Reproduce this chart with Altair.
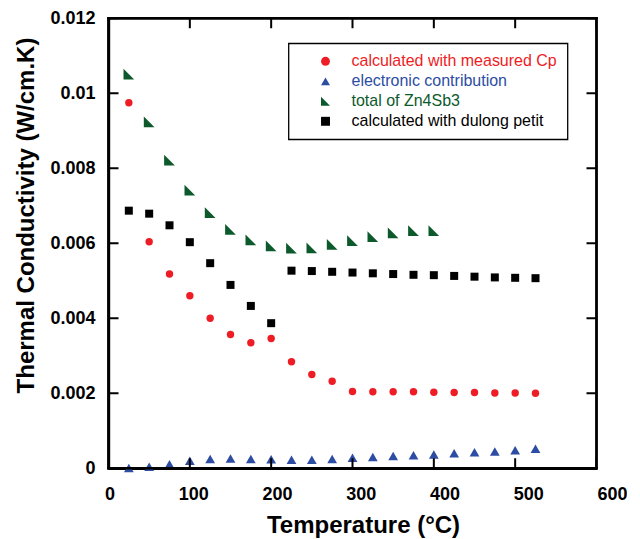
import altair as alt
import pandas as pd

temps = [25, 50, 75, 100, 125, 150, 175, 200, 225, 250, 275, 300, 325, 350, 375, 400, 425, 450, 475, 500, 525]
cp_measured = [0.00975, 0.00604, 0.00518, 0.00460, 0.00400, 0.00357, 0.00335, 0.00346, 0.00284, 0.00250, 0.00232,
               0.00205, 0.00204, 0.00204, 0.00204, 0.00203, 0.00202, 0.00202, 0.00201, 0.00201, 0.00200]
electronic = [0.00001, 0.00004, 0.00011, 0.00020, 0.00025, 0.00026, 0.00025, 0.00024, 0.00023, 0.00023, 0.00025,
              0.00028, 0.00030, 0.00033, 0.00035, 0.00037, 0.00040, 0.00043, 0.00045, 0.00048, 0.00052]
total_temps = [25, 50, 75, 100, 125, 150, 175, 200, 225, 250, 275, 300, 325, 350, 375, 400]
total = [0.01051, 0.00924, 0.00822, 0.00742, 0.00682, 0.00637, 0.00609, 0.00593, 0.00587, 0.00588, 0.00597,
         0.00607, 0.00618, 0.00628, 0.00634, 0.00634]
dulong = [0.00687, 0.00679, 0.00648, 0.00603, 0.00547, 0.00489, 0.00433, 0.00387, 0.00527, 0.00526, 0.00524,
          0.00522, 0.00520, 0.00518, 0.00516, 0.00515, 0.00513, 0.00511, 0.00509, 0.00508, 0.00507]

names = ["calculated with measured Cp", "electronic contribution", "total of Zn4Sb3", "calculated with dulong petit"]
colors = ["#ee1c24", "#2c4da3", "#0c5a2c", "#000000"]
shapes = ["circle", "triangle-up", "M-1,-1L1,1L-1,1Z", "square"]
sizes = [55, 95, 115, 64]

x_domain = [0, 600]
y_domain = [0, 0.012]
x_ticks = [0, 100, 200, 300, 400, 500, 600]
y_ticks = [0, 0.002, 0.004, 0.006, 0.008, 0.01, 0.012]

series_data = [(names[0], temps, cp_measured), (names[1], temps, electronic),
               (names[2], total_temps, total), (names[3], temps, dulong)]
rows = []
for name, xs_, ys_ in series_data:
    for t, v in zip(xs_, ys_):
        rows.append({"kind": "point", "series": name, "T": t, "k": v})
# tick positions (inward ticks on all four sides) and the frame edges, in data units
for t in x_ticks:
    for edge in y_domain:
        rows.append({"kind": "xtick", "T": t, "k": edge})
for v in y_ticks:
    for edge in x_domain:
        rows.append({"kind": "ytick", "T": edge, "k": v})
rows.append({"kind": "frame", "T": x_domain[0], "k": y_domain[0], "T2": x_domain[1], "k2": y_domain[0]})
rows.append({"kind": "frame", "T": x_domain[0], "k": y_domain[1], "T2": x_domain[1], "k2": y_domain[1]})
rows.append({"kind": "frame", "T": x_domain[0], "k": y_domain[0], "T2": x_domain[0], "k2": y_domain[1]})
rows.append({"kind": "frame", "T": x_domain[1], "k": y_domain[0], "T2": x_domain[1], "k2": y_domain[1]})
df = pd.DataFrame(rows)

W, H = 488, 450
FONT = "Liberation Sans"

xs = alt.Scale(domain=x_domain, nice=False, zero=False)
ys = alt.Scale(domain=y_domain, nice=False)

label_color_expr = (
    f"datum.label == '{names[0]}' ? '{colors[0]}' : "
    f"datum.label == '{names[1]}' ? '{colors[1]}' : "
    f"datum.label == '{names[2]}' ? '{colors[2]}' : '{colors[3]}'"
)

legend = alt.Legend(
    title=None, orient="none", legendX=180, legendY=25,
    strokeColor="black", padding=10, fillColor="white",
    labelFont=FONT, labelFontSize=16, labelLimit=0,
    labelColor={"expr": label_color_expr},
    symbolSize=80, symbolStrokeWidth=0, symbolOffset=19, labelOffset=18,
    rowPadding=4,
)

x_main_axis = alt.Axis(
    orient="bottom", values=x_ticks, ticks=False, tickSize=0, domain=True, domainColor="black",
    domainWidth=2.4, grid=False,
    labelFont=FONT, labelFontWeight="bold", labelFontSize=18, labelPadding=17, labelColor="black",
    labelFlush=False, labelOffset={"expr": "1 + datum.value * 0.024"},
    title="Temperature (°C)", titleFont=FONT, titleFontSize=24, titleFontWeight="bold",
    titleColor="black", titleX=254.5, titleY=64, titleBaseline="alphabetic", titleAlign="center")
y_main_axis = alt.Axis(
    orient="left", values=y_ticks, format="~g", ticks=False, tickSize=0, domain=True, domainColor="black",
    domainWidth=2.4, grid=False,
    labelFont=FONT, labelFontWeight="bold", labelFontSize=18, labelPadding=13.5, labelColor="black",
    labelFlush=False,
    title="Thermal Conductivity (W/cm.K)", titleFont=FONT, titleFontSize=24, titleFontWeight="bold",
    titleColor="black", titleX=-75.5, titleY=196.7, titleAngle=270, titleBaseline="alphabetic",
    titleAlign="center")

base = alt.Chart(df)

layers = []
for i, name in enumerate(names):
    enc = dict(
        color=alt.Color("series:N", scale=alt.Scale(domain=names, range=colors), legend=legend),
        shape=alt.Shape("series:N", scale=alt.Scale(domain=names, range=shapes), legend=legend),
    )
    if i == 0:
        enc["x"] = alt.X("T:Q", scale=xs, axis=x_main_axis)
        enc["y"] = alt.Y("k:Q", scale=ys, axis=y_main_axis)
    else:
        enc["x"] = alt.X("T:Q", scale=xs, axis=None)
        enc["y"] = alt.Y("k:Q", scale=ys, axis=None)
    layers.append(
        base.transform_filter(alt.datum.series == name)
        .mark_point(filled=True, opacity=1, strokeWidth=0, size=sizes[i])
        .encode(**enc)
    )

x_tick_layer = base.transform_filter(alt.datum.kind == "xtick").mark_tick(
    orient="vertical", size=20, thickness=2, color="black", opacity=1, clip=True
).encode(x=alt.X("T:Q", scale=xs, axis=None), y=alt.Y("k:Q", scale=ys, axis=None))

y_tick_layer = base.transform_filter(alt.datum.kind == "ytick").mark_tick(
    orient="horizontal", size=20, thickness=2, color="black", opacity=1, clip=True
).encode(x=alt.X("T:Q", scale=xs, axis=None), y=alt.Y("k:Q", scale=ys, axis=None))

frame_layer = base.transform_filter(alt.datum.kind == "frame").mark_rule(
    color="black", strokeWidth=2.4, strokeCap="square"
).encode(
    x=alt.X("T:Q", scale=xs, axis=None), y=alt.Y("k:Q", scale=ys, axis=None),
    x2="T2:Q", y2="k2:Q",
)

chart = alt.layer(*layers, x_tick_layer, y_tick_layer, frame_layer).resolve_axis(
    x="independent", y="independent"
).properties(
    width=W, height=H,
    autosize=alt.AutoSizeParams(type="none"),
    padding={"left": 100.5, "top": 10.3, "right": 30, "bottom": 70},
).configure_view(
    stroke="black", strokeWidth=2.4
).configure_legend(
    strokeWidth=1.3
)

chart.save("out.html", embed_options={"renderer": "svg", "actions": False})
